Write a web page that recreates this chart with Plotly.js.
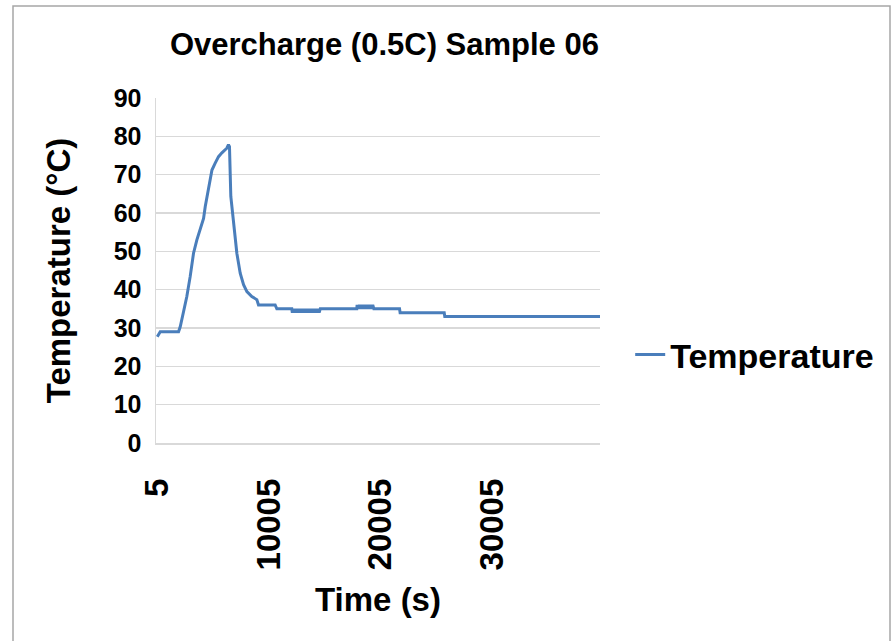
<!DOCTYPE html>
<html>
<head>
<meta charset="utf-8">
<script src="https://cdn.plot.ly/plotly-3.0.1.min.js"></script>
<style>
  html, body { margin: 0; padding: 0; background: #ffffff; }
  #chart { width: 892px; height: 641px; }
</style>
</head>
<body>
<div id="chart"></div>
<script>
// Time (s)
const timeS = [
  5, 270, 1910, 2060, 2360, 2650, 2950, 3100, 3250, 3550, 3850, 4150, 4300, 4450,
  4750, 4900, 5190, 5490, 5790, 6230, 6380, 6470, 6590, 6830, 7130, 7430, 7730,
  8030, 8470, 8920, 9070, 10560, 10710, 12050,
  12100, 12200, 12300, 12400, 12500, 12600, 12700, 12800, 12900, 13000, 13100,
  13200, 13300, 13400, 13500, 13600, 13700, 13800, 13900, 14000, 14100, 14200,
  14300, 14400, 14500, 14600,
  17870, 17900, 18000, 18100, 18200, 18300, 18400, 18500, 18600, 18700, 18800,
  18900, 19000, 19100, 19200, 19300, 19400, 19500,
  21700, 21750, 25700, 25750, 39650
];
// Temperature (°C)
const temperatureC = [
  27.7, 29, 29, 30.3, 34.3, 38.2, 43.4, 46.9, 49.5, 53, 55.6, 58.6, 61.7, 64.3,
  68.6, 71.2, 73, 74.7, 75.7, 76.9, 77.8, 77.3, 64.3, 57.3, 49.5, 44.3, 41.3,
  39.5, 38.2, 37.4, 36, 36, 35, 35,
  34, 35, 34, 35, 34, 35, 34, 35, 34, 35, 34,
  35, 34, 35, 34, 35, 34, 35, 34, 35, 34, 35,
  34, 35, 34, 35,
  35, 36, 35, 36, 35, 36, 35, 36, 35, 36, 35,
  36, 35, 36, 35, 36, 35, 35,
  35, 34, 34, 33, 33
];
const xTickVals = [5, 10005, 20005, 30005];
const xTickText = ["5", "10005", "20005", "30005"];

const FONT = "Liberation Sans, Arial, sans-serif";
const GRID = "#d9d9d9";

const trace = {
  x: timeS,
  y: temperatureC,
  type: "scatter",
  mode: "lines",
  name: "Temperature",
  line: { color: "#4a7ebb", width: 3 }
};

const layout = {
  width: 892,
  height: 641,
  margin: { l: 156, r: 292, t: 98, b: 198, pad: 0 },
  paper_bgcolor: "#ffffff",
  plot_bgcolor: "#ffffff",
  font: { family: FONT, color: "#000000" },
  title: {
    text: "Overcharge (0.5C) Sample 06",
    font: { family: FONT, size: 31, weight: "bold", color: "#000000" },
    xref: "container", yref: "container",
    x: 0.431, xanchor: "center",
    y: 1 - 44 / 641, yanchor: "middle"
  },
  xaxis: {
    range: [-110, 39650],
    tickmode: "array",
    tickvals: xTickVals,
    ticktext: xTickText,
    tickangle: -90,
    tickfont: { family: FONT, size: 33, weight: "bold", color: "#000000" },
    ticks: "",
    ticklabelstandoff: 21,
    showgrid: false,
    zeroline: false,
    showline: true,
    linecolor: GRID,
    linewidth: 1.5,
    automargin: false,
    title: {
      text: "Time (s)",
      font: { family: FONT, size: 33, weight: "bold", color: "#000000" },
      standoff: 18
    }
  },
  yaxis: {
    range: [0, 90],
    tick0: 0,
    dtick: 10,
    tickfont: { family: FONT, size: 25, weight: "bold", color: "#000000" },
    ticks: "",
    ticklabelstandoff: 8,
    showgrid: true,
    gridcolor: GRID,
    gridwidth: 1.5,
    zeroline: false,
    showline: true,
    linecolor: GRID,
    linewidth: 1.5,
    automargin: false,
    title: {
      text: "Temperature (°C)",
      font: { family: FONT, size: 33, weight: "bold", color: "#000000" },
      standoff: 33
    }
  },
  showlegend: true,
  legend: {
    x: 1.068, xanchor: "left",
    y: 0.255, yanchor: "middle",
    xref: "paper", yref: "paper",
    bgcolor: "rgba(0,0,0,0)",
    borderwidth: 0,
    font: { family: FONT, size: 34, weight: "bold", color: "#000000" }
  },
  shapes: [{
    type: "rect",
    xref: "paper", yref: "paper",
    x0: (13 - 156) / 444, x1: (890 - 156) / 444,
    y0: (443 - 660) / 345, y1: (443 - 6) / 345,
    line: { color: "#a6a6a6", width: 1.5 },
    fillcolor: "rgba(0,0,0,0)",
    layer: "below"
  }]
};

Plotly.newPlot("chart", [trace], layout, { displayModeBar: false, staticPlot: true });
</script>
</body>
</html>
